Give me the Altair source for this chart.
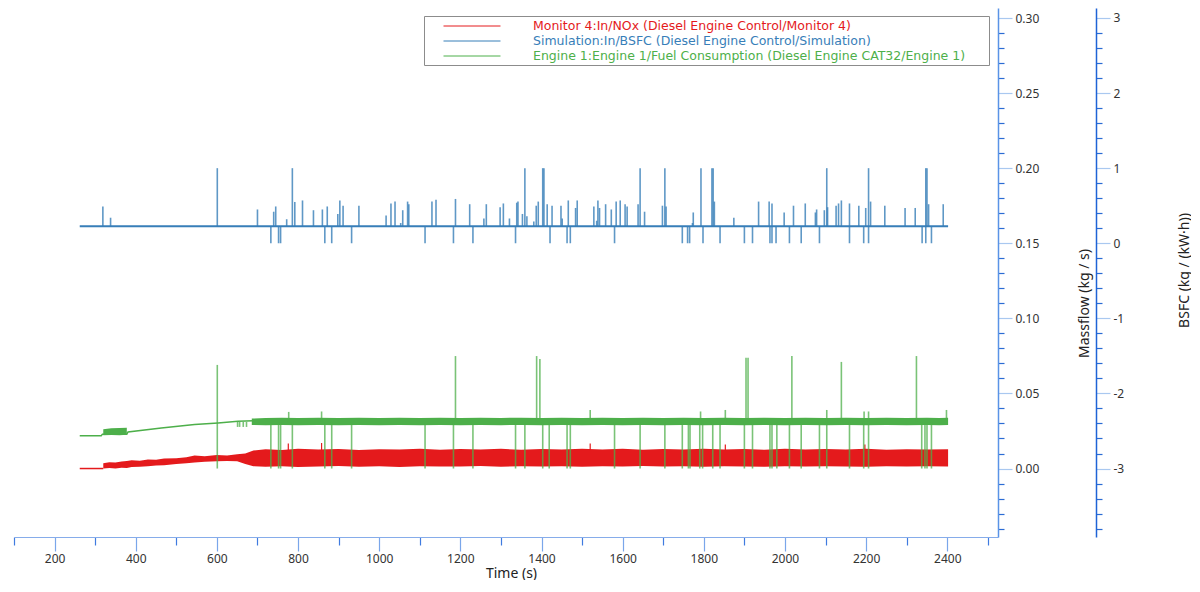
import altair as alt
import pandas as pd

MONITOR = "Monitor 4:In/NOx (Diesel Engine Control/Monitor 4)"
SIM = "Simulation:In/BSFC (Diesel Engine Control/Simulation)"
ENGINE = "Engine 1:Engine 1/Fuel Consumption (Diesel Engine CAT32/Engine 1)"
series_names = [MONITOR, SIM, ENGINE]
series_colors = ["#e41a1c", "#377eb8", "#4daf4a"]
FONT = "Noto Sans"
LEGEND_FONT = "DejaVu Sans"

# ---------------- axis ticks ----------------
x_ticks = list(range(100, 2600, 100))
mf_ticks = [round(-0.04 + 0.01 * i, 2) for i in range(35)]
bsfc_ticks = [round(-3.8 + 0.2 * i, 1) for i in range(35)]

# ---------------- NOx (Massflow, kg/s) ----------------
nox_line_t = [262, 320]
nox_line_v = [0.0, 0.0]
nox_band_t = [320, 335, 350, 365, 378, 390, 410, 430, 450, 470, 500, 525, 545, 570, 600,
              625, 650, 670, 690, 720, 760, 800, 850, 900, 950, 1000, 1050, 1100, 1150,
              1200, 1250, 1300, 1350, 1400, 1450, 1500, 1550, 1600, 1650, 1700, 1750,
              1800, 1850, 1900, 1950, 2000, 2050, 2100, 2150, 2200, 2250, 2300, 2350, 2402]
nox_band_lo = [0.0000, 0.0003, 0.0000, 0.0005, 0.0004, 0.0010, 0.0012, 0.0016, 0.0020, 0.0022,
               0.0030, 0.0035, 0.0040, 0.0045, 0.0048, 0.0050, 0.0048, 0.0030, 0.0015, 0.0012,
               0.0016, 0.0010, 0.0014, 0.0017, 0.0012, 0.0015, 0.0011, 0.0016, 0.0013, 0.0014,
               0.0017, 0.0012, 0.0015, 0.0013, 0.0016, 0.0012, 0.0015, 0.0014, 0.0017, 0.0013,
               0.0015, 0.0012, 0.0016, 0.0014, 0.0012, 0.0015, 0.0013, 0.0016, 0.0014, 0.0012,
               0.0015, 0.0013, 0.0016, 0.0014]
nox_band_hi = [0.0035, 0.0042, 0.0040, 0.0046, 0.0050, 0.0055, 0.0052, 0.0060, 0.0058, 0.0066,
               0.0068, 0.0075, 0.0086, 0.0082, 0.0090, 0.0087, 0.0095, 0.0100, 0.0120, 0.0128,
               0.0124, 0.0131, 0.0126, 0.0130, 0.0124, 0.0129, 0.0126, 0.0132, 0.0125, 0.0130,
               0.0127, 0.0131, 0.0125, 0.0130, 0.0126, 0.0132, 0.0127, 0.0131, 0.0125, 0.0130,
               0.0127, 0.0132, 0.0126, 0.0130, 0.0125, 0.0131, 0.0127, 0.0130, 0.0126, 0.0131,
               0.0125, 0.0129, 0.0126, 0.0128]
nox_tick_t = [776, 858, 1520, 1853, 2197]
nox_tick_v = [0.0167, 0.0170, 0.0167, 0.0160, 0.0160]
nox_tick_base = 0.012

# ---------------- Fuel consumption (Massflow, kg/s) ----------------
fuel_line_t = [262, 315, 318, 378, 381, 463, 545, 603, 652, 690]
fuel_line_v = [0.0218, 0.0218, 0.0229, 0.0229, 0.0244, 0.0270, 0.0293, 0.0304, 0.0315, 0.0318]
fuel_band_seg = ["a"] * 4 + ["b"] * 37
fuel_band_t = [320, 340, 360, 378,
               686, 720, 760, 800, 850, 900, 950, 1000, 1050, 1100, 1150, 1200, 1250, 1300,
               1350, 1400, 1450, 1500, 1550, 1600, 1650, 1700, 1750, 1800, 1850, 1900, 1950,
               2000, 2050, 2100, 2150, 2200, 2250, 2300, 2350, 2380, 2402]
fuel_band_lo = [0.0222, 0.0224, 0.0222, 0.0225,
                0.0290, 0.0289, 0.0290, 0.0288, 0.0290, 0.0289, 0.0290, 0.0288, 0.0290, 0.0289,
                0.0290, 0.0288, 0.0290, 0.0289, 0.0290, 0.0288, 0.0290, 0.0289, 0.0290, 0.0288,
                0.0290, 0.0289, 0.0290, 0.0288, 0.0290, 0.0289, 0.0290, 0.0288, 0.0290, 0.0289,
                0.0290, 0.0288, 0.0290, 0.0289, 0.0290, 0.0288, 0.0290]
fuel_band_hi = [0.0262, 0.0268, 0.0270, 0.0272,
                0.0333, 0.0336, 0.0338, 0.0336, 0.0338, 0.0337, 0.0339, 0.0336, 0.0338, 0.0337,
                0.0339, 0.0336, 0.0338, 0.0337, 0.0339, 0.0336, 0.0338, 0.0337, 0.0339, 0.0336,
                0.0338, 0.0337, 0.0339, 0.0336, 0.0338, 0.0337, 0.0339, 0.0336, 0.0338, 0.0337,
                0.0339, 0.0336, 0.0338, 0.0337, 0.0339, 0.0337, 0.0338]
fuel_rule_base = 0.031
fuel_spike_t = [601, 1188, 1388, 1396, 1904, 1909, 2017, 2139, 2324]
fuel_spike_v = [0.069, 0.0749, 0.0749, 0.073, 0.0737, 0.0737, 0.0749, 0.071, 0.0749]
fuel_dip_t = [601, 733, 752, 757, 786, 866, 883, 932, 1113, 1183, 1231, 1336, 1359, 1403,
              1419, 1463, 1471, 1580, 1643, 1704, 1747, 1762, 1766, 1790, 1797, 1822, 1840,
              1900, 1920, 1963, 1968, 1980, 2011, 2040, 2085, 2103, 2159, 2194, 2206, 2337,
              2345, 2350, 2361]
fuel_dip_v = 0.0
fuel_small_t = [651, 656, 665, 673, 777, 858, 1520, 1792, 1853, 2103, 2195, 2206, 2398]
fuel_small_v = [0.0277, 0.0277, 0.0277, 0.0277, 0.0377, 0.0380, 0.0390, 0.0380, 0.0390,
                0.0390, 0.0380, 0.0380, 0.0390]

# ---------------- BSFC (kg/(kW h)) ----------------
bsfc_line_t = [262, 2402]
bsfc_line_v = [0.226, 0.226]
bsfc_spike_t = [319, 338, 601, 700, 740, 745, 772, 786, 792, 811, 838, 860, 872, 898, 903,
                911, 950, 1017, 1029, 1039, 1053, 1058, 1070, 1073, 1130, 1140, 1188, 1223,
                1258, 1264, 1298, 1306, 1321, 1339, 1342, 1353, 1359, 1364, 1381, 1387, 1392,
                1403, 1406, 1414, 1426, 1448, 1451, 1466, 1484, 1488, 1529, 1536, 1539, 1543,
                1558, 1572, 1584, 1594, 1606, 1611, 1638, 1643, 1654, 1698, 1704, 1707, 1772,
                1774, 1793, 1820, 1823, 1826, 1874, 1935, 1961, 1968, 1998, 2021, 2050, 2075,
                2078, 2097, 2103, 2105, 2126, 2132, 2139, 2159, 2182, 2199, 2206, 2211, 2246,
                2296, 2321, 2347, 2350, 2354, 2390]
bsfc_spike_v = [0.49, 0.34, 1.0, 0.45, 0.42, 0.49, 0.32, 1.0, 0.55, 0.57, 0.44, 0.45, 0.49,
                0.39, 0.57, 0.50, 0.50, 0.37, 0.53, 0.555, 0.27, 0.44, 0.555, 0.52, 0.555,
                0.58, 0.59, 0.52, 0.33, 0.52, 0.48, 0.53, 0.33, 0.54, 0.555, 0.39, 1.0, 0.36,
                0.29, 0.50, 0.555, 1.0, 1.0, 0.52, 0.50, 0.50, 0.33, 0.57, 0.47, 0.57, 0.49,
                0.30, 0.57, 0.47, 0.52, 0.45, 0.555, 0.57, 0.52, 0.49, 0.52, 1.0, 0.42, 0.50,
                1.0, 0.49, 0.27, 0.41, 1.0, 1.0, 1.0, 0.555, 0.34, 0.555, 0.555, 0.53, 0.41,
                0.50, 0.53, 0.41, 0.45, 0.44, 1.0, 0.48, 0.50, 0.53, 0.57, 0.53, 0.50, 0.47,
                1.0, 0.555, 0.50, 0.47, 0.47, 1.0, 1.0, 0.52, 0.52]
bsfc_dip_t = [733, 752, 757, 866, 883, 932, 1113, 1183, 1231, 1336, 1421, 1463, 1471, 1580,
              1747, 1760, 1765, 1798, 1840, 1900, 1920, 1963, 1968, 1978, 2011, 2040, 2085,
              2159, 2194, 2206, 2338, 2347, 2361]
bsfc_dip_v = 0.0
bsfc_base = 0.226

# ---------------- tables ----------------
nox_line = pd.DataFrame({"t": nox_line_t, "v": nox_line_v, "series": MONITOR})
nox_band = pd.DataFrame({"t": nox_band_t, "lo": nox_band_lo, "hi": nox_band_hi})
nox_ticks = pd.DataFrame({"t": nox_tick_t, "v": nox_tick_v, "base": nox_tick_base})
fuel_line = pd.DataFrame({"t": fuel_line_t, "v": fuel_line_v, "series": ENGINE})
fuel_band = pd.DataFrame({"seg": fuel_band_seg, "t": fuel_band_t, "lo": fuel_band_lo, "hi": fuel_band_hi})
fuel_rules = pd.DataFrame({
    "t": fuel_spike_t + fuel_dip_t + fuel_small_t,
    "v": fuel_spike_v + [fuel_dip_v] * len(fuel_dip_t) + fuel_small_v,
    "base": fuel_rule_base,
})
bsfc_line = pd.DataFrame({"t": bsfc_line_t, "v": bsfc_line_v, "series": SIM})
bsfc_rules = pd.DataFrame({
    "t": bsfc_spike_t + bsfc_dip_t,
    "v": bsfc_spike_v + [bsfc_dip_v] * len(bsfc_dip_t),
    "base": bsfc_base,
})

# ---------------- axes ----------------
MAJOR_TICK = "#a9c8f0"
MINOR_TICK = "#2b6cd4"

xaxis = alt.Axis(
    title="Time (s)", values=x_ticks, format="d",
    labelExpr="datum.value % 200 == 0 ? datum.label : ''",
    tickSize={"condition": {"test": "datum.value % 200 == 0", "value": 14}, "value": 8},
    tickColor={"condition": {"test": "datum.value % 200 == 0", "value": "#7aa6ea"}, "value": "#3f7be0"},
    tickWidth=1.2, domainColor="#86acea", domainWidth=1.2,
    labelColor="#333333", labelFont=FONT, labelFontSize=12, labelPadding=2,
    titleFont=FONT, titleFontSize=14, titleFontWeight="normal", titleColor="#222222",
    titlePadding=2, titleX=497, labelOverlap=False, labelFlush=False, grid=False,
)

mf_axis = alt.Axis(
    orient="right", title="Massflow (kg / s)", values=mf_ticks,
    labelExpr="abs(round(datum.value * 100)) % 5 == 0 ? format(datum.value, '.2f') : ''",
    tickSize={"condition": {"test": "abs(round(datum.value * 100)) % 5 == 0", "value": 14}, "value": 6},
    tickColor={"condition": {"test": "abs(round(datum.value * 100)) % 5 == 0", "value": MAJOR_TICK}, "value": MINOR_TICK},
    tickWidth=1.2, domainColor="#5a93e6", domainWidth=1.5,
    labelColor="#333333", labelFont=FONT, labelFontSize=12, labelPadding=3,
    titleFont=FONT, titleFontSize=14, titleFontWeight="normal", titleColor="#222222",
    titleAngle=270, titleX=86, titleY=295, titleBaseline="middle", titleAlign="center",
    labelOverlap=False, labelFlush=False, grid=False,
)

bsfc_axis = alt.Axis(
    orient="right", offset=98, title="BSFC (kg / (kW·h))", values=bsfc_ticks,
    labelExpr="abs(round(datum.value * 5)) % 5 == 0 ? '' + round(datum.value) : ''",
    tickSize={"condition": {"test": "abs(round(datum.value * 5)) % 5 == 0", "value": 14}, "value": 6},
    tickColor={"condition": {"test": "abs(round(datum.value * 5)) % 5 == 0", "value": MAJOR_TICK}, "value": MINOR_TICK},
    tickWidth=1.2, domainColor="#1f63d6", domainWidth=1.5,
    labelColor="#333333", labelFont=FONT, labelFontSize=12, labelPadding=3,
    titleFont=FONT, titleFontSize=14, titleFontWeight="normal", titleColor="#222222",
    titleAngle=270, titleX=88, titleY=262, titleBaseline="middle", titleAlign="center",
    labelOverlap=False, labelFlush=False, grid=False,
)

xs = alt.Scale(domain=[100, 2525], nice=False, zero=False)
mf_scale = alt.Scale(domain=[-0.0456, 0.3067], nice=False, zero=False)
bsfc_scale = alt.Scale(domain=[-3.912, 3.133], nice=False, zero=False)

color_expr = ("indexof(datum.label, 'Monitor') == 0 ? '#e41a1c' : "
              "(indexof(datum.label, 'Simulation') == 0 ? '#377eb8' : '#4daf4a')")
legend = alt.Legend(
    title=None, orient="none", legendX=410, legendY=8,
    # a short horizontal stroke; the trailing move-to only widens the entry box
    symbolType="M-4,0L4,0M72,0", symbolSize=203, symbolStrokeWidth=1,
    rowPadding=0, padding=2, symbolOffset=38, labelOffset=53,
    labelFont=LEGEND_FONT, labelFontSize=12.5, labelLimit=0,
    labelColor={"expr": color_expr},
    strokeColor="#8c8c8c", fillColor="white", cornerRadius=0,
)
color = alt.Color("series:N", scale=alt.Scale(domain=series_names, range=series_colors), legend=legend)

X = alt.X("t:Q", scale=xs, axis=xaxis)

nox_band_layer = alt.Chart(nox_band).mark_area(color="#e41a1c", opacity=1).encode(
    x=X, y=alt.Y("lo:Q", scale=mf_scale, axis=mf_axis), y2="hi:Q")
nox_line_layer = alt.Chart(nox_line).mark_line(strokeWidth=1.5).encode(
    x=X, y=alt.Y("v:Q", scale=mf_scale, axis=mf_axis), color=color)
nox_tick_layer = alt.Chart(nox_ticks).mark_rule(color="#e41a1c", strokeWidth=1.2).encode(
    x=X, y=alt.Y("base:Q", scale=mf_scale, axis=mf_axis), y2="v:Q")

fuel_band_layer = alt.Chart(fuel_band).mark_area(color="#4daf4a", opacity=1).encode(
    x=X, y=alt.Y("lo:Q", scale=mf_scale, axis=mf_axis), y2="hi:Q", detail="seg:N")
fuel_line_layer = alt.Chart(fuel_line).mark_line(strokeWidth=1.5).encode(
    x=X, y=alt.Y("v:Q", scale=mf_scale, axis=mf_axis), color=color)
fuel_rule_layer = alt.Chart(fuel_rules).mark_rule(color="#4daf4a", strokeWidth=1.6, opacity=0.75).encode(
    x=X, y=alt.Y("base:Q", scale=mf_scale, axis=mf_axis), y2="v:Q")

bsfc_line_layer = alt.Chart(bsfc_line).mark_line(strokeWidth=2).encode(
    x=X, y=alt.Y("v:Q", scale=bsfc_scale, axis=bsfc_axis), color=color)
bsfc_rule_layer = alt.Chart(bsfc_rules).mark_rule(color="#377eb8", strokeWidth=1.6, opacity=0.8).encode(
    x=X, y=alt.Y("base:Q", scale=bsfc_scale, axis=bsfc_axis), y2="v:Q")

mass = alt.layer(nox_line_layer, nox_band_layer, nox_tick_layer,
                 fuel_band_layer, fuel_rule_layer, fuel_line_layer)
bsfc = alt.layer(bsfc_rule_layer, bsfc_line_layer)

chart = alt.layer(mass, bsfc).resolve_scale(y="independent").properties(
    width=984, height=529,
    padding={"left": 5, "top": 0, "right": 0, "bottom": 0},
    background="white",
).configure_view(stroke=None)

chart.save("out.html", embed_options={"renderer": "svg", "actions": False})
